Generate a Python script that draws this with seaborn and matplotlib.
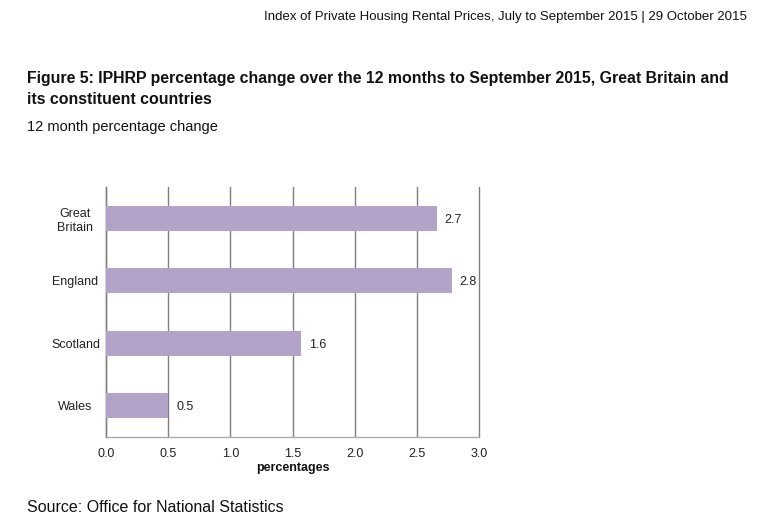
import matplotlib
matplotlib.use("Agg")
import matplotlib.pyplot as plt
import seaborn as sns
import pandas as pd

countries = ["Great\nBritain", "England", "Scotland", "Wales"]
values = [2.66, 2.78, 1.57, 0.5]
labels = ["2.7", "2.8", "1.6", "0.5"]
xticks = [0.0, 0.5, 1.0, 1.5, 2.0, 2.5, 3.0]

sns.set_theme(style="white")
plt.rcParams['font.family'] = ['Liberation Sans', 'DejaVu Sans']

W, H = 764, 532
fig = plt.figure(figsize=(W / 100, H / 100), dpi=100)
ax = fig.add_axes([106 / W, 1 - 437 / H, (479 - 106) / W, (437 - 187) / H])
ax.set_axisbelow(True)

df = pd.DataFrame({"country": countries, "value": values})
sns.barplot(data=df, x="value", y="country", orient="h", color="#b3a3c8",
            saturation=1, width=0.4, ax=ax, linewidth=0, zorder=3)

ax.set_xlim(0, 3.0)
ax.set_ylim(3.5, -0.5)
ax.set_xticks(xticks)
ax.set_xticklabels([f"{t:.1f}" for t in xticks], fontsize=9, color="#222222")
ax.tick_params(axis="x", length=0, pad=8)
ax.tick_params(axis="y", which="major", length=0, pad=22, labelsize=9, labelcolor="#222222")
ax.set_yticks([-0.5, 0.5, 1.5, 2.5, 3.5], minor=True)
ax.tick_params(axis="y", which="minor", length=4, color="#888888", width=1)
for lbl in ax.get_yticklabels():
    lbl.set_horizontalalignment("center")
    lbl.set_multialignment("center")

ax.grid(axis="x", color="#7f7f7f", linewidth=1)
ax.grid(axis="y", visible=False)
for gl in ax.get_xgridlines():
    gl.set_clip_on(False)
for s in ["top", "right"]:
    ax.spines[s].set_visible(False)
ax.spines["left"].set_color("#7f7f7f")
ax.spines["bottom"].set_color("#a9a9b5")
ax.spines["left"].set_linewidth(1)
ax.spines["bottom"].set_linewidth(1)
ax.spines["bottom"].set_zorder(4)

ax.set_ylabel("")
ax.set_xlabel("percentages", fontsize=9, fontweight="bold", labelpad=1, color="#111111")

for i, (v, l) in enumerate(zip(values, labels)):
    ax.annotate(l, xy=(v, i), xytext=(12, 0), textcoords="offset points",
                va="center_baseline", ha="center", fontsize=9, color="#222222")

fig.text(747 / W, 1 - 17 / H, "Index of Private Housing Rental Prices, July to September 2015 | 29 October 2015",
         ha="right", va="center", fontsize=9.5, color="#111111")
fig.text(27 / W, 1 - 78 / H, "Figure 5: IPHRP percentage change over the 12 months to September 2015, Great Britain and",
         ha="left", va="center", fontsize=11.4, fontweight="bold", color="#111111")
fig.text(27 / W, 1 - 99 / H, "its constituent countries",
         ha="left", va="center", fontsize=11.4, fontweight="bold", color="#111111")
fig.text(27 / W, 1 - 127 / H, "12 month percentage change",
         ha="left", va="center", fontsize=10.5, color="#111111")
fig.text(27 / W, 1 - 508 / H, "Source: Office for National Statistics",
         ha="left", va="center", fontsize=11.5, color="#111111")

fig.savefig("out.png", dpi=100)
